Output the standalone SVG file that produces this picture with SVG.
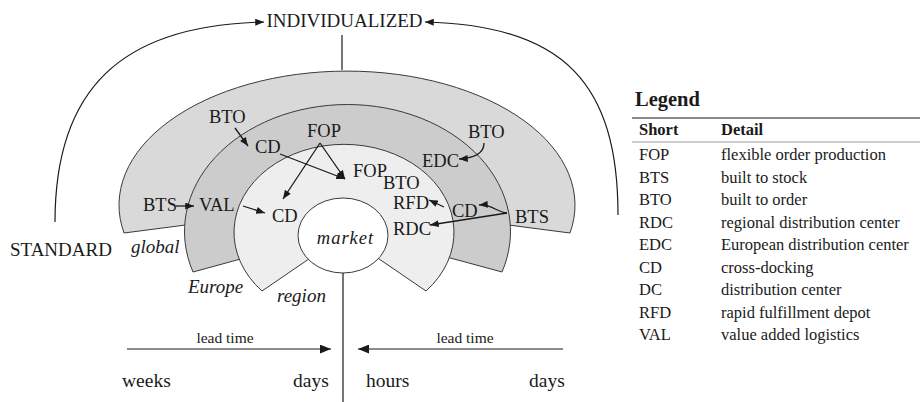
<svg xmlns="http://www.w3.org/2000/svg" width="920" height="402" viewBox="0 0 920 402">
  <defs>
    <marker id="arrow" viewBox="0 0 10 8" refX="10" refY="4" markerWidth="9" markerHeight="7" markerUnits="userSpaceOnUse" orient="auto">
      <path d="M0,0 L10,4 L0,8 z" fill="#1a1a1a"/>
    </marker>
    <marker id="arrowBig" viewBox="0 0 10 8" refX="10" refY="4" markerWidth="11" markerHeight="9" markerUnits="userSpaceOnUse" orient="auto">
      <path d="M0,0 L10,4 L0,8 z" fill="#1a1a1a"/>
    </marker>
    <style>
      text { font-family: "Liberation Serif", "Times New Roman", serif; fill: #1a1a1a; }
      .lbl { font-size: 18.5px; }
      .big { font-size: 19px; }
      .zone { font-size: 19px; font-style: italic; }
      .scale { font-size: 19.5px; }
      .small { font-size: 15.5px; }
      .band { stroke: #3a3a3a; stroke-width: 1; }
      .line { fill: none; stroke: #1a1a1a; stroke-width: 1.2; }
      .conn { fill: none; stroke: #1a1a1a; stroke-width: 1.3; marker-end: url(#arrow); }
      .lg-title { font-size: 20.5px; font-weight: bold; }
      .lg-head { font-size: 16.5px; font-weight: bold; }
      .lg-row { font-size: 16.5px; }
    </style>
  </defs>

  <!-- nested supply zones -->
  <g id="zone-global">
    <path class="band" fill="#d9d9d9" d="M124,233 A228,134 0 1 1 570,233 L347,204 Z"/>
  </g>
  <g id="zone-europe">
    <path class="band" fill="#cccccc" d="M193,272 A163,127 0 1 1 502,272 L347,230 Z"/>
  </g>
  <g id="zone-region">
    <path class="band" fill="#eeeeee" d="M262,291 A110,88 0 1 1 426,291 L344,235 Z"/>
  </g>
  <g id="market">
    <ellipse class="band" fill="#ffffff" cx="343" cy="235.5" rx="45" ry="37.5"/>
    <text class="lbl" x="345.5" y="244" text-anchor="middle" font-style="italic" letter-spacing="1">market</text>
  </g>

  <!-- axes and scale arrows -->
  <g id="connectors">
    <path class="line" d="M342,35 L342,70"/>
    <path class="line" d="M343,273 L343,402"/>
    <path class="line" marker-end="url(#arrow)" d="M55,222 C55,90 120,25 264,22"/>
    <path class="line" marker-end="url(#arrow)" d="M618,215 C618,85 565,25 425,22"/>
    <path class="line" marker-end="url(#arrowBig)" d="M127,349 L331,349"/>
    <path class="line" marker-end="url(#arrowBig)" d="M563,349 L358,349"/>

    <path class="conn" d="M235,128 L248,146"/>
    <path class="conn" d="M320,143 L283,199"/>
    <path class="conn" d="M320,143 L345,179"/>
    <path class="conn" d="M280,154 L345,179"/>
    <path class="conn" d="M484,143 C484,153 475,158 459,159"/>
    <path class="conn" d="M507,213 C496,212 492,204 479,205"/>
    <path class="conn" d="M444,207 L429,200"/>
    <path class="conn" d="M507,213 L430,225"/>
    <path class="conn" d="M176,206 L194,206"/>
    <path class="conn" d="M243,206 L265,213"/>
  </g>

  <!-- axis labels -->
  <g id="axis-labels">
    <text class="big" x="344.5" y="27" text-anchor="middle">INDIVIDUALIZED</text>
    <text class="big" x="10" y="256">STANDARD</text>
    <text class="zone" x="131" y="253">global</text>
    <text class="zone" x="188" y="293">Europe</text>
    <text class="zone" x="277" y="302">region</text>
    <text class="small" x="225" y="343" text-anchor="middle">lead time</text>
    <text class="small" x="465" y="343" text-anchor="middle">lead time</text>
    <text class="scale" x="122" y="387">weeks</text>
    <text class="scale" x="293" y="387">days</text>
    <text class="scale" x="366" y="387">hours</text>
    <text class="scale" x="529" y="387">days</text>
  </g>

  <!-- flow nodes -->
  <g id="node-bto-global"><text class="lbl" x="209" y="123">BTO</text></g>
  <g id="node-cd-europe"><text class="lbl" x="255" y="153">CD</text></g>
  <g id="node-fop-europe"><text class="lbl" x="307" y="137">FOP</text></g>
  <g id="node-fop-region"><text class="lbl" x="353" y="177">FOP</text></g>
  <g id="node-bto-region"><text class="lbl" x="383" y="189">BTO</text></g>
  <g id="node-rfd"><text class="lbl" x="393" y="209">RFD</text></g>
  <g id="node-rdc"><text class="lbl" x="393" y="235">RDC</text></g>
  <g id="node-cd-east"><text class="lbl" x="452" y="217">CD</text></g>
  <g id="node-bts-east"><text class="lbl" x="515" y="223">BTS</text></g>
  <g id="node-edc"><text class="lbl" x="422" y="167">EDC</text></g>
  <g id="node-bto-east"><text class="lbl" x="468" y="138">BTO</text></g>
  <g id="node-bts-west"><text class="lbl" x="143" y="211">BTS</text></g>
  <g id="node-val"><text class="lbl" x="199" y="211">VAL</text></g>
  <g id="node-cd-region"><text class="lbl" x="272" y="222">CD</text></g>

  <!-- legend table -->
  <g id="legend">
    <text class="lg-title" x="635" y="106">Legend</text>
    <line x1="632" y1="118" x2="920" y2="118" stroke="#8a8a8a" stroke-width="2"/>
    <text class="lg-head" x="639" y="135">Short</text>
    <text class="lg-head" x="721" y="135">Detail</text>
    <line x1="632" y1="142" x2="920" y2="142" stroke="#9a9a9a" stroke-width="1"/>
    <g class="lg-row">
      <text class="lg-row" x="639" y="160">FOP</text><text class="lg-row" x="721" y="160">flexible order production</text>
      <text class="lg-row" x="639" y="182.5">BTS</text><text class="lg-row" x="721" y="182.5">built to stock</text>
      <text class="lg-row" x="639" y="205">BTO</text><text class="lg-row" x="721" y="205">built to order</text>
      <text class="lg-row" x="639" y="227.5">RDC</text><text class="lg-row" x="721" y="227.5">regional distribution center</text>
      <text class="lg-row" x="639" y="250">EDC</text><text class="lg-row" x="721" y="250">European distribution center</text>
      <text class="lg-row" x="639" y="272.5">CD</text><text class="lg-row" x="721" y="272.5">cross-docking</text>
      <text class="lg-row" x="639" y="295">DC</text><text class="lg-row" x="721" y="295">distribution center</text>
      <text class="lg-row" x="639" y="317.5">RFD</text><text class="lg-row" x="721" y="317.5">rapid fulfillment depot</text>
      <text class="lg-row" x="639" y="340">VAL</text><text class="lg-row" x="721" y="340">value added logistics</text>
    </g>
  </g>
</svg>
